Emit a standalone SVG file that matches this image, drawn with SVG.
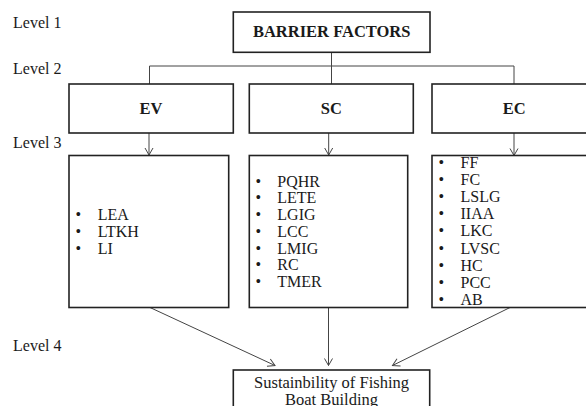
<svg xmlns="http://www.w3.org/2000/svg" width="586" height="406" viewBox="0 0 586 406">
<style>
text{font-family:"Liberation Serif","Times New Roman",serif;fill:#1a1a1a}
.lvl{font-size:16px}
.h{font-size:16.5px;font-weight:bold;text-anchor:middle}
.it{font-size:16px}
.box{fill:#fff;stroke:#222;stroke-width:1.6}
.con{fill:none;stroke:#444;stroke-width:1}
</style>
<defs>
<marker id="ah" markerWidth="10" markerHeight="10" refX="8" refY="5" orient="auto" markerUnits="userSpaceOnUse">
<polyline points="1,1 8,5 1,9" fill="none" stroke="#444" stroke-width="1"/>
</marker>
</defs>
<g id="levels">
<text class="lvl" x="13" y="28">Level 1</text>
<text class="lvl" x="13" y="74">Level 2</text>
<text class="lvl" x="13" y="147.5">Level 3</text>
<text class="lvl" x="13" y="351">Level 4</text>
</g>
<g id="connectors">
<path class="con" d="M331.5,52 V84 M149.5,66 H514 M149.5,66 V84 M514,66 V84"/>
<line class="con" x1="149" y1="133" x2="149" y2="155" marker-end="url(#ah)"/>
<line class="con" x1="328.7" y1="133" x2="328.7" y2="155" marker-end="url(#ah)"/>
<line class="con" x1="514" y1="133" x2="514" y2="155.5" marker-end="url(#ah)"/>
<line class="con" x1="150" y1="307.5" x2="275" y2="365.5" marker-end="url(#ah)"/>
<line class="con" x1="328.5" y1="307.5" x2="328.5" y2="365.5" marker-end="url(#ah)"/>
<line class="con" x1="510" y1="307.5" x2="392.5" y2="365.5" marker-end="url(#ah)"/>
</g>
<g id="barrier">
<rect class="box" x="233.3" y="12" width="196.7" height="40.3"/>
<text class="h" x="331.7" y="37.3">BARRIER FACTORS</text>
</g>
<g id="ev">
<rect class="box" x="69" y="84" width="164.3" height="49"/>
<text class="h" x="151" y="114">EV</text>
</g>
<g id="sc">
<rect class="box" x="249.3" y="84" width="164" height="49"/>
<text class="h" x="331.3" y="114">SC</text>
</g>
<g id="ec">
<rect class="box" x="432" y="84" width="170" height="49"/>
<text class="h" x="514.3" y="114.3">EC</text>
</g>
<g id="ev-items">
<rect class="box" x="69" y="155.5" width="159.7" height="152"/>
<g class="it">
<text x="75.5" y="220">•</text><text x="97.7" y="220">LEA</text>
<text x="75.5" y="237">•</text><text x="97.7" y="237">LTKH</text>
<text x="75.5" y="254">•</text><text x="97.7" y="254">LI</text>
</g>
</g>
<g id="sc-items">
<rect class="box" x="249.3" y="155.5" width="158.4" height="152"/>
<g class="it">
<text x="255.5" y="186.7">•</text><text x="277.3" y="186.7">PQHR</text>
<text x="255.5" y="203.4">•</text><text x="277.3" y="203.4">LETE</text>
<text x="255.5" y="220.1">•</text><text x="277.3" y="220.1">LGIG</text>
<text x="255.5" y="236.8">•</text><text x="277.3" y="236.8">LCC</text>
<text x="255.5" y="253.5">•</text><text x="277.3" y="253.5">LMIG</text>
<text x="255.5" y="270.2">•</text><text x="277.3" y="270.2">RC</text>
<text x="255.5" y="287">•</text><text x="277.3" y="287">TMER</text>
</g>
</g>
<g id="ec-items">
<rect class="box" x="432" y="155.5" width="170" height="152"/>
<g class="it">
<text x="438.5" y="168">•</text><text x="460.5" y="168">FF</text>
<text x="438.5" y="185.1">•</text><text x="460.5" y="185.1">FC</text>
<text x="438.5" y="202.2">•</text><text x="460.5" y="202.2">LSLG</text>
<text x="438.5" y="219.3">•</text><text x="460.5" y="219.3">IIAA</text>
<text x="438.5" y="236.4">•</text><text x="460.5" y="236.4">LKC</text>
<text x="438.5" y="253.5">•</text><text x="460.5" y="253.5">LVSC</text>
<text x="438.5" y="270.6">•</text><text x="460.5" y="270.6">HC</text>
<text x="438.5" y="287.7">•</text><text x="460.5" y="287.7">PCC</text>
<text x="438.5" y="304.8">•</text><text x="460.5" y="304.8">AB</text>
</g>
</g>
<g id="outcome">
<rect class="box" x="233.3" y="370" width="196.4" height="50"/>
<text x="331.5" y="387.5" font-size="16.5" text-anchor="middle">Sustainbility of Fishing</text>
<text x="331.5" y="405" font-size="16.5" text-anchor="middle">Boat Building</text>
</g>
</svg>
